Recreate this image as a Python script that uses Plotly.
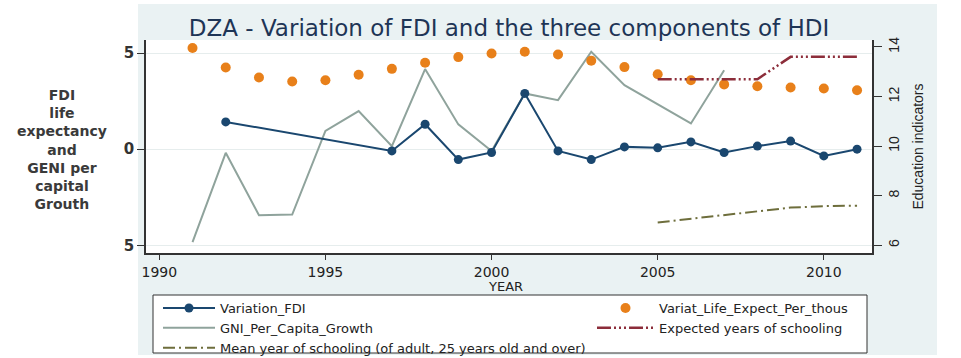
import plotly.graph_objects as go

# ---------------- data ----------------
years = list(range(1991, 2012))
variation_fdi = [None, 1.42, None, None, None, None, -0.09, 1.30, -0.54, -0.17, 2.90,
                 -0.09, -0.54, 0.12, 0.07, 0.38, -0.17, 0.16, 0.42, -0.35, 0.00]
life_expect = [5.26, 4.25, 3.73, 3.52, 3.59, 3.87, 4.18, 4.50, 4.79, 4.98, 5.07,
               4.93, 4.60, 4.27, 3.90, 3.59, 3.37, 3.27, 3.21, 3.16, 3.07]
gni_growth = [-4.83, -0.19, -3.44, -3.40, 0.95, 1.98, 0.16, 4.17, 1.29, -0.10, 2.90,
              2.55, 5.07, 3.33, None, 1.34, 4.11, None, None, None, None]
expected_school = [None] * 14 + [12.7, 12.7, 12.7, 12.7, 13.6, 13.6, 13.6]
mean_school = [None] * 14 + [6.92, 7.07, 7.22, 7.37, 7.52, 7.58, 7.60]

x_ticks = [1990, 1995, 2000, 2005, 2010]
left_ticks = [-5, 0, 5]
left_ticktext = ["5", "0", "5"]
right_ticks = [6, 8, 10, 12, 14]

title = "DZA - Variation of FDI and the three components of HDI"
left_title = "FDI<br>life<br>expectancy<br>and<br>GENI per<br>capital<br>Grouth"
x_title = "YEAR"
right_title = "Education indicators"

# ---------------- figure ----------------
W, H = 961, 358
ML, MR, MT, MB = 146, 89, 40, 105
PW, PH = W - ML - MR, H - MT - MB


def px_x(p):
    return (p - ML) / PW


def px_y(p):
    return (H - MB - p) / PH


fig = go.Figure()

fig.add_trace(go.Scatter(
    x=years, y=gni_growth, name="GNI_Per_Capita_Growth", mode="lines",
    line=dict(color="#8fa39c", width=2), connectgaps=True,
    legend="legend", legendrank=2))
fig.add_trace(go.Scatter(
    x=years, y=variation_fdi, name="Variation_FDI", mode="lines+markers",
    line=dict(color="#1a476f", width=2), marker=dict(size=9, color="#1a476f"),
    connectgaps=True, legend="legend", legendrank=1))
fig.add_trace(go.Scatter(
    x=years, y=life_expect, name="Variat_Life_Expect_Per_thous", mode="markers",
    marker=dict(size=10, color="#e8801a"), legend="legend2", legendrank=1))
fig.add_trace(go.Scatter(
    x=years, y=expected_school, name="Expected years of schooling", mode="lines",
    line=dict(color="#8c2d3a", width=2.5, dash="14px,3px,2px,3px,2px,3px,2px,3px"),
    yaxis="y2", legend="legend2", legendrank=2))
fig.add_trace(go.Scatter(
    x=years, y=mean_school, name="Mean year of schooling (of adult, 25 years old and over)",
    mode="lines", line=dict(color="#6e6e3c", width=2, dash="12px,4px,2px,4px"),
    yaxis="y2", legend="legend", legendrank=3))

shapes = [
    # grey graph region
    dict(type="rect", xref="paper", yref="paper", x0=px_x(138), x1=px_x(937),
         y0=px_y(355), y1=px_y(4), fillcolor="#eaf2f3", line=dict(width=0), layer="below"),
    # white plot region
    dict(type="rect", xref="paper", yref="paper", x0=0, x1=1, y0=0, y1=1,
         fillcolor="white", line=dict(width=0), layer="below"),
    # legend box
    dict(type="rect", xref="paper", yref="paper", x0=px_x(153), x1=px_x(867),
         y0=px_y(353), y1=px_y(295), fillcolor="white",
         line=dict(color="#333333", width=1), layer="below"),
]

legend_font = dict(family="DejaVu Sans", size=13, color="#222222")
legend_top = px_y(293)

fig.update_layout(
    width=W, height=H,
    margin=dict(l=ML, r=MR, t=MT, b=MB, autoexpand=False),
    paper_bgcolor="white", plot_bgcolor="white",
    font=dict(family="DejaVu Sans", color="#222222"),
    title=dict(text=title, x=0.5, xref="paper", xanchor="center",
               y=1 - 28 / H, yanchor="middle",
               font=dict(family="DejaVu Sans", size=23, color="#1e3556")),
    xaxis=dict(range=[1989.6, 2011.45], tickvals=x_ticks, showgrid=False,
               showline=True, linecolor="#333333", linewidth=1.5,
               ticks="outside", ticklen=5, tickcolor="#333333",
               tickfont=dict(size=14, color="#222222"), zeroline=False),
    yaxis=dict(range=[-5.40, 5.68], tickvals=left_ticks, ticktext=left_ticktext,
               showgrid=True, gridcolor="#e6eded", gridwidth=1, zeroline=False,
               showline=True, linecolor="#333333", linewidth=1.5,
               ticks="outside", ticklen=7, tickcolor="#333333",
               tickfont=dict(family="DejaVu Sans", size=15, color="#333333", weight="bold")),
    yaxis2=dict(range=[5.69, 14.28], tickvals=right_ticks, overlaying="y", side="right",
                showgrid=False, zeroline=False, showline=True, linecolor="#333333",
                linewidth=1.5, ticks="outside", ticklen=8, tickcolor="#333333",
                tickangle=-90,
                tickfont=dict(family="Liberation Sans", size=14, color="#222222"),
                title=dict(text=right_title, standoff=13,
                           font=dict(family="Liberation Sans Narrow, Liberation Sans",
                                     size=14, color="#222222"))),
    shapes=shapes,
    showlegend=True,
    legend=dict(orientation="v", x=px_x(158), xanchor="left", y=legend_top, yanchor="top",
                itemwidth=52, traceorder="normal", bgcolor="rgba(0,0,0,0)", borderwidth=0,
                font=legend_font),
    legend2=dict(orientation="v", x=px_x(592), xanchor="left", y=legend_top, yanchor="top",
                 itemwidth=57, traceorder="normal", bgcolor="rgba(0,0,0,0)", borderwidth=0,
                 font=legend_font),
    annotations=[
        dict(text=left_title, xref="paper", yref="paper", x=px_x(62), y=px_y(149),
             xanchor="center", yanchor="middle", showarrow=False, align="center",
             font=dict(family="DejaVu Sans", size=14, color="#3a3a3a", weight="bold")),
        dict(text=x_title, xref="paper", yref="paper", x=px_x(505), y=px_y(286),
             xanchor="center", yanchor="middle", showarrow=False,
             font=dict(family="DejaVu Sans", size=13, color="#222222")),
    ],
)

fig.write_html("out.html")
